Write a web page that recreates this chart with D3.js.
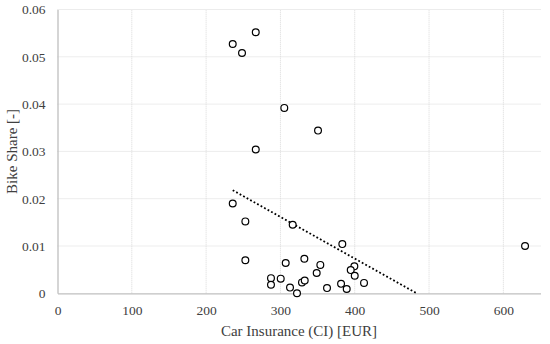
<!DOCTYPE html>
<html><head><meta charset="utf-8">
<script src="https://cdn.jsdelivr.net/npm/d3@7"></script>
<style>body{margin:0;background:#fff} svg text{font-family:"Liberation Serif","Times New Roman","DejaVu Serif",serif !important;}</style>
</head><body>
<svg id="c" width="550" height="344"></svg>
<script>
const carInsurance = [266.8,235.8,248.3,305.2,350.6,266.8,235.8,252.8,316.5,383.3,252.8,307.1,332.2,353.7,348.8,399.5,394.6,400,412.5,287.3,287.3,300.4,312.9,322.3,329,332.7,362.7,381.6,389.2,629.2];
const bikeShare = [0.0552,0.0527,0.0508,0.0392,0.0344,0.0304,0.0190,0.0152,0.0145,0.0104,0.0070,0.0064,0.0073,0.0060,0.0043,0.0057,0.0049,0.0037,0.0022,0.0032,0.0018,0.0031,0.0012,0.0000,0.0023,0.0027,0.0011,0.0020,0.0009,0.0100];
const trendX = [235.8, 483.4];
const trendY = [0.0218, 0];
const xTicks = [0,100,200,300,400,500,600];
const yTicks = [0,0.01,0.02,0.03,0.04,0.05,0.06];

const svg = d3.select("#c");
const x = d3.scaleLinear().domain([0,650]).range([57.5,540.5]);
const y = d3.scaleLinear().domain([0,0.06]).range([293.3,9.5]);

// gridlines
svg.append("g").selectAll("line").data(xTicks.filter(d=>d>0)).join("line")
  .attr("x1",d=>x(d)).attr("x2",d=>x(d)).attr("y1",y(0)).attr("y2",y(0.06))
  .attr("stroke","#d9d9d9").attr("stroke-width",1).attr("stroke-dasharray","1,1");
svg.append("g").selectAll("line").data(yTicks.filter(d=>d>0)).join("line")
  .attr("x1",x(0)).attr("x2",x(650)).attr("y1",d=>y(d)).attr("y2",d=>y(d))
  .attr("stroke","#d9d9d9").attr("stroke-width",1).attr("stroke-dasharray","1,1");

// axes
const xa = svg.append("g").attr("transform",`translate(0,${y(0)})`)
  .call(d3.axisBottom(x).tickValues(xTicks).tickSize(0).tickPadding(12).tickFormat(d3.format("d")));
const ya = svg.append("g").attr("transform",`translate(${x(0)},0)`)
  .call(d3.axisLeft(y).tickValues(yTicks).tickSize(0).tickPadding(12).tickFormat(d=>d===0?"0":d3.format(".2f")(d)));
[xa,ya].forEach(a=>{
  a.attr("font-family",null);
  a.select(".domain").attr("stroke","#bfbfbf").attr("stroke-width",1.3);
  a.selectAll("text").attr("font-size",13.5).attr("fill","#404040");
});

// trendline
svg.append("line")
  .attr("x1",x(trendX[0])).attr("y1",y(trendY[0])).attr("x2",x(trendX[1])).attr("y2",y(trendY[1]))
  .attr("stroke","#000").attr("stroke-width",1.8).attr("stroke-dasharray","1.8,2.2");

// points
svg.append("g").selectAll("circle").data(carInsurance.map((v,i)=>[v,bikeShare[i]])).join("circle")
  .attr("cx",d=>x(d[0])).attr("cy",d=>y(d[1])).attr("r",3.4)
  .attr("fill","#fff").attr("stroke","#000").attr("stroke-width",1.2);

// titles
svg.append("text").attr("x",x(325)).attr("y",336).attr("text-anchor","middle")
  .attr("font-size",15).attr("fill","#404040").text("Car Insurance (CI) [EUR]");
svg.append("text").attr("transform",`translate(17,${(y(0)+y(0.06))/2}) rotate(-90)`).attr("text-anchor","middle")
  .attr("font-size",15).attr("fill","#404040").text("Bike Share [-]");
</script>
</body></html>
